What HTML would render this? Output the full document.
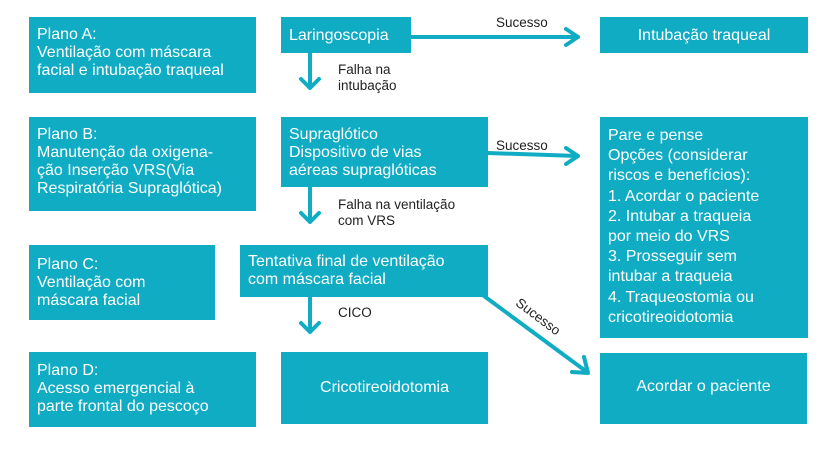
<!DOCTYPE html>
<html><head><meta charset="utf-8"><style>
body{margin:0;width:834px;height:452px;background:#fff;position:relative;font-family:"Liberation Sans",sans-serif;overflow:hidden}
.b{position:absolute;background:#10acc4;color:#fff;font-size:16px;line-height:18px;box-sizing:border-box;padding:6px 8px}
.t{position:absolute;color:#222;font-size:13.5px;line-height:16px}
</style></head><body>
<div class="b" style="left:29px;top:17px;width:227px;height:76px;padding-top:9px">Plano A:<br>Ventilação com máscara<br>facial e intubação traqueal</div>
<div class="b" style="left:281px;top:17px;width:130px;height:36px;padding-top:10px">Laringoscopia</div>
<div class="b" style="left:600px;top:17px;width:208px;height:36px;padding-top:10px;text-align:center">Intubação traqueal</div>
<div class="b" style="left:29px;top:117px;width:227px;height:94px;padding-top:9px">Plano B:<br>Manutenção da oxigena-<br>ção Inserção VRS(Via<br>Respiratória Supraglótica)</div>
<div class="b" style="left:281px;top:117px;width:207px;height:70px;padding-top:9px">Supraglótico<br>Dispositivo de vias<br>aéreas supraglóticas</div>
<div class="b" style="left:600px;top:117px;width:208px;height:221px;padding-top:9px;line-height:20.2px">Pare e pense<br>Opções (considerar<br>riscos e benefícios):<br>1. Acordar o paciente<br>2. Intubar a traqueia<br>por meio do VRS<br>3. Prosseguir sem<br>intubar a traqueia<br>4. Traqueostomia ou<br>cricotireoidotomia</div>
<div class="b" style="left:29px;top:245px;width:186px;height:75px;padding-top:11px">Plano C:<br>Ventilação com<br>máscara facial</div>
<div class="b" style="left:240px;top:245px;width:248px;height:52px;padding-top:8px">Tentativa final de ventilação<br>com máscara facial</div>
<div class="b" style="left:29px;top:352px;width:227px;height:75px;padding-top:10px">Plano D:<br>Acesso emergencial à<br>parte frontal do pescoço</div>
<div class="b" style="left:281px;top:352px;width:207px;height:72px;padding-top:27px;text-align:center">Cricotireoidotomia</div>
<div class="b" style="left:600px;top:353px;width:207px;height:71px;padding-top:25px;text-align:center">Acordar o paciente</div>
<div class="t" style="left:496px;top:15px">Sucesso</div>
<div class="t" style="left:338px;top:62px">Falha na<br>intubação</div>
<div class="t" style="left:496px;top:138px">Sucesso</div>
<div class="t" style="left:338px;top:197px">Falha na ventilação<br>com VRS</div>
<div class="t" style="left:338px;top:305px">CICO</div>
<div class="t" style="left:522px;top:295px;transform:rotate(37deg);transform-origin:left top">Sucesso</div>
<svg width="834" height="452" style="position:absolute;left:0;top:0" fill="none" stroke="#10acc4" stroke-width="4" stroke-linecap="round" stroke-linejoin="round">
<path d="M411 37H578M566 29L578 37L566 45"/>
<path d="M488 153L578 156M566 148L578 156L566 164"/>
<path d="M310 53V88M301 79L310 88L319 79"/>
<path d="M310 187V222M301 213L310 222L319 213"/>
<path d="M310 297V332M301 323L310 332L319 323"/>
<path d="M484 296L587 372M572 372L588 373L584 357"/>
</svg>
</body></html>
